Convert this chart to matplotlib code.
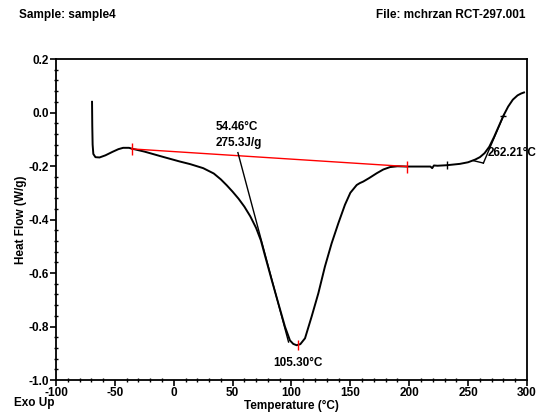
import numpy as np
import matplotlib
matplotlib.use('Agg')
import matplotlib.pyplot as plt
from matplotlib.ticker import MultipleLocator, FormatStrFormatter

plt.rcParams['font.family'] = ['Liberation Sans', 'DejaVu Sans']
plt.rcParams['font.weight'] = 'bold'
plt.rcParams['axes.unicode_minus'] = False

# DSC trace (Temperature in C, Heat Flow in W/g)
temp = [-69.4, -69.2, -68.9, -68.3, -66.5, -63, -58, -52, -47, -43, -38, -35.7,
        -25, -9, 5, 14, 25, 34, 40, 45, 50, 55, 60, 65, 70, 74, 77.5, 83.2,
        88.8, 94.5, 98.7, 101.5, 104.4, 107.5, 111.5, 117.1, 122.8, 128.4, 134.1,
        139.8, 145.4, 150, 155.4, 158, 161, 166, 172.4, 178, 183.7, 190, 198.3,
        210, 218, 219.5, 221, 224, 232, 243, 250, 256, 260, 264, 268, 272, 276,
        280, 284, 288, 292, 295, 297.5]
heat_flow = [0.040, -0.05, -0.12, -0.155, -0.167, -0.168, -0.160, -0.147, -0.137,
             -0.132, -0.132, -0.135, -0.146, -0.166, -0.183, -0.193, -0.208, -0.228,
             -0.250, -0.272, -0.296, -0.322, -0.352, -0.388, -0.432, -0.478, -0.535,
             -0.626, -0.713, -0.801, -0.852, -0.865, -0.870, -0.866, -0.844, -0.763,
             -0.676, -0.576, -0.489, -0.414, -0.345, -0.300, -0.271, -0.264, -0.258,
             -0.245, -0.227, -0.213, -0.204, -0.201, -0.202, -0.202, -0.202, -0.208,
             -0.198, -0.199, -0.197, -0.192, -0.186, -0.176, -0.167, -0.152, -0.128,
             -0.092, -0.052, -0.012, 0.022, 0.048, 0.064, 0.071, 0.075]

# integration baseline (red) and peak
base_t = [-35.7, 198.3]
base_hf = [-0.136, -0.202]
peak_t, peak_hf = 105.3, -0.870

# onset tangent constructions
onset1_t = [54.5, 97.5]
onset1_hf = [-0.150, -0.858]
onset2_base_t = [254.5, 263.0]
onset2_base_hf = [-0.180, -0.189]
onset2_tan_t = [263.0, 280.5]
onset2_tan_hf = [-0.189, -0.008]

fig = plt.figure(figsize=(5.37, 4.2), dpi=100)
ax = fig.add_axes([0.1043, 0.0952, 0.877, 0.7643])

ax.plot(temp, heat_flow, color='black', lw=1.4)
ax.plot(base_t, base_hf, color='red', lw=1.0)
ax.plot(base_t, base_hf, linestyle='none', marker='|', ms=8, mew=1.0, color='red')
ax.plot([peak_t], [peak_hf], linestyle='none', marker='|', ms=7, mew=1.0, color='red')
ax.plot(onset1_t, onset1_hf, color='black', lw=1.0)
ax.plot(onset2_base_t, onset2_base_hf, color='black', lw=1.0)
ax.plot(onset2_tan_t, onset2_tan_hf, color='black', lw=1.0)
ax.plot([232], [-0.197], linestyle='none', marker='|', ms=6, mew=1.0, color='black')
ax.plot([280], [-0.012], linestyle='none', marker='_', ms=4, mew=1.0, color='black')

lbl_kw = dict(fontsize=8.5, fontweight='bold', va='center')
ax.text(35.9, -0.053, '54.46°C', ha='left', **lbl_kw)
ax.text(35.9, -0.115, '275.3J/g', ha='left', **lbl_kw)
ax.text(105.5, -0.935, '105.30°C', ha='center', **lbl_kw)
ax.text(266.9, -0.151, '262.21°C', ha='left', clip_on=False, **lbl_kw)

ax.set_xlim(-100, 300)
ax.set_ylim(-1.0, 0.2)
ax.xaxis.set_major_locator(MultipleLocator(50))
ax.xaxis.set_minor_locator(MultipleLocator(10))
ax.yaxis.set_major_locator(MultipleLocator(0.2))
ax.yaxis.set_minor_locator(MultipleLocator(0.04))
ax.yaxis.set_major_formatter(FormatStrFormatter('%.1f'))
ax.tick_params(which='major', direction='out', length=4, width=1.2, labelsize=8.5, pad=1)
ax.tick_params(which='minor', direction='inout', length=3, width=1.0)
for lbl in ax.get_xticklabels() + ax.get_yticklabels():
    lbl.set_fontweight('bold')
for s in ax.spines.values():
    s.set_linewidth(1.3)

ax.set_ylabel('Heat Flow (W/g)', fontsize=8.5, fontweight='bold')
ax.yaxis.set_label_coords(-0.062, 0.5)
ax.set_xlabel('Temperature (°C)', fontsize=8.5, fontweight='bold', labelpad=1)

fig.text(19 / 537, 1 - 15 / 420, 'Sample: sample4', fontsize=8.5, fontweight='bold',
         ha='left', va='center')
fig.text(525 / 537, 1 - 15 / 420, 'File: mchrzan RCT-297.001', fontsize=8.5,
         fontweight='bold', ha='right', va='center')
fig.text(14 / 537, 1 - 403 / 420, 'Exo Up', fontsize=8.5, fontweight='bold',
         ha='left', va='center')

fig.savefig('out.png', dpi=100)
